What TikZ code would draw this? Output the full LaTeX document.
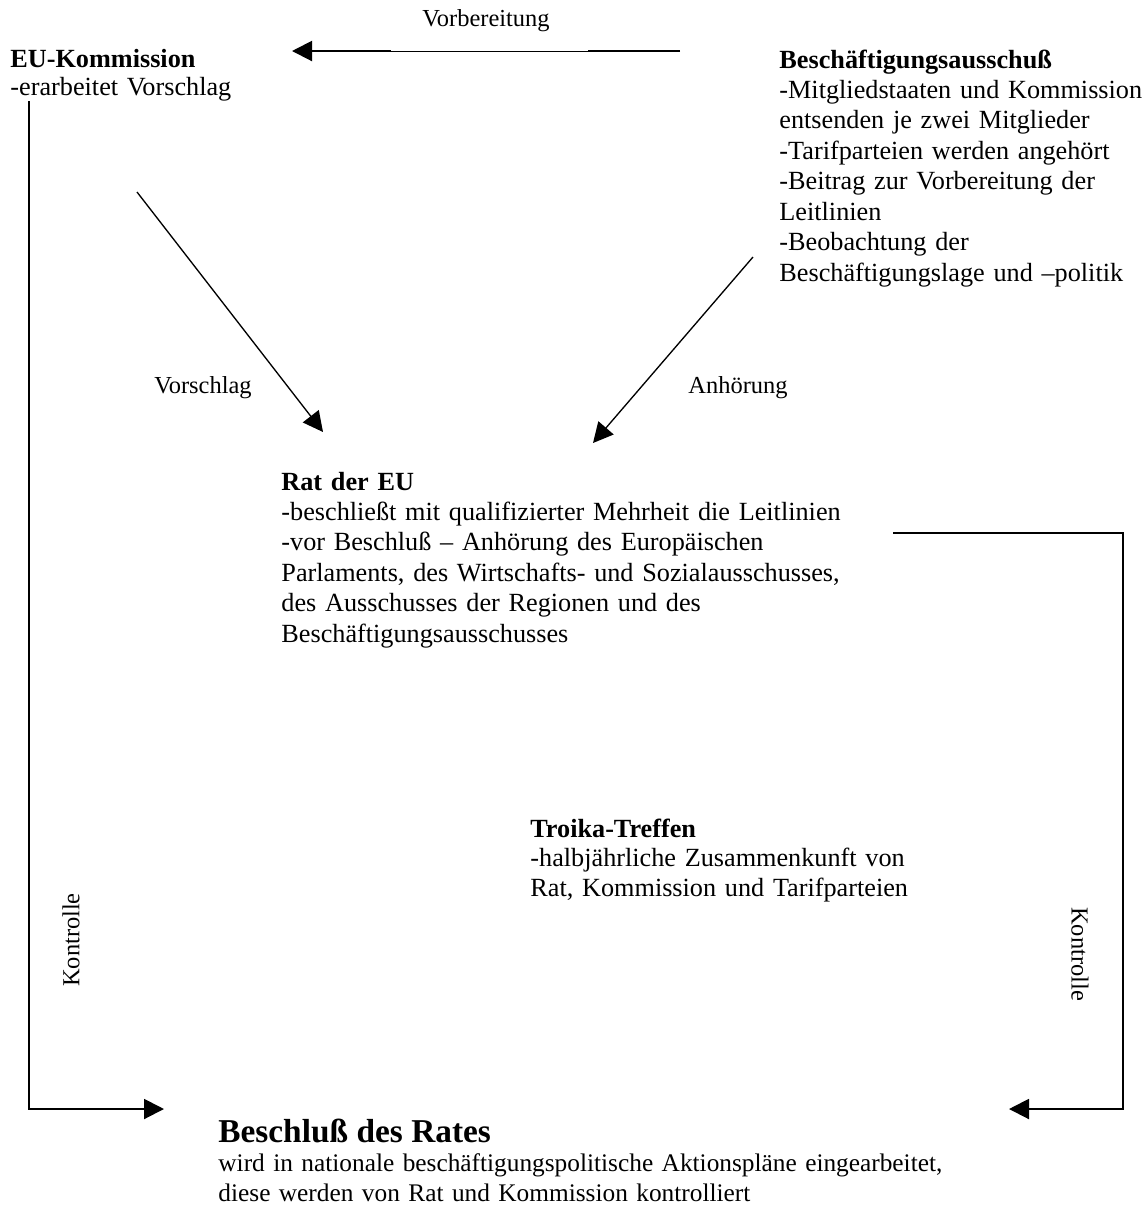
\documentclass[tikz,border=0pt]{standalone}
\usepackage{fontspec}
\setmainfont{Liberation Serif}
\usetikzlibrary{arrows.meta,positioning}

\begin{document}
\begin{tikzpicture}[x=0.45pt, y=-0.45pt,
	box/.style={anchor=base west, inner sep=0pt, align=left, text width=420pt, font=\fontsize{11.8}{13.3}\selectfont},
	lbl/.style={inner sep=0pt, font=\fontsize{11}{12}\selectfont},
	ln/.style={line width=0.9pt},
	arr/.style={line width=0.9pt, -{Triangle[length=9pt, width=9pt]}}]
		\useasboundingbox (0,0) rectangle (1148,1214);
		% text blocks
		\node [box, font=\fontsize{11.8}{12.8}\selectfont] (kom) at (10,67) {\textbf{EU-Kommission}\\-erarbeitet Vorschlag};
		\node [box, font=\fontsize{11.8}{13.7}\selectfont] (bsa) at (779,68) {\textbf{Beschäftigungsausschuß}\\-Mitgliedstaaten und Kommission\\entsenden je zwei Mitglieder\\-Tarifparteien werden angehört\\-Beitrag zur Vorbereitung der\\Leitlinien\\-Beobachtung der\\Beschäftigungslage und –politik};
		\node [box, font=\fontsize{11.8}{13.7}\selectfont] (rat) at (281,490) {\textbf{Rat der EU}\\-beschließt mit qualifizierter Mehrheit die Leitlinien\\-vor Beschluß – Anhörung des Europäischen\\Parlaments, des Wirtschafts- und Sozialausschusses,\\des Ausschusses der Regionen und des\\Beschäftigungsausschusses};
		\node [box] (troika) at (530,837) {\textbf{Troika-Treffen}\\-halbjährliche Zusammenkunft von\\Rat, Kommission und Tarifparteien};
		\node [box, font=\fontsize{11.4}{13.3}\selectfont] (beschl) at (218,1142) {{\bfseries\fontsize{15}{16}\selectfont Beschluß des Rates}\\wird in nationale beschäftigungspolitische Aktionspläne eingearbeitet,\\diese werden von Rat und Kommission kontrolliert};
		% labels
		\node [lbl, anchor=base] (vorb) at (486,26) {Vorbereitung};
		\node [lbl, anchor=base] (vorschl) at (203,393) {Vorschlag};
		\node [lbl, anchor=base] (anh) at (738,393) {Anhörung};
		\node [lbl, rotate=90] (kon-l) at (71,940) {Kontrolle};
		\node [lbl, rotate=-90] (kon-r) at (1080,954) {Kontrolle};
		% arrow ends
		\coordinate (vb-a) at (680,51);
		\coordinate (vb-b) at (588,51);
		\coordinate (vb-c) at (391,51);
		\coordinate (vb-tip) at (292,51);
		\coordinate (vs-a) at (137,192);
		\coordinate (vs-tip) at (323,432);
		\coordinate (an-a) at (753,257);
		\coordinate (an-tip) at (593,443);
		\coordinate (kl-a) at (29,101);
		\coordinate (kl-b) at (29,1109);
		\coordinate (kl-tip) at (164,1109);
		\coordinate (kr-a) at (893,533);
		\coordinate (kr-b) at (1123,533);
		\coordinate (kr-c) at (1123,1109);
		\coordinate (kr-tip) at (1009,1109);
		% connectors
		\draw [ln] (vb-a) -- (vb-b);
		\draw [line width=0.4pt] (vb-b) -- (vb-c);
		\draw [arr] (vb-c) -- (vb-tip);
		\draw [arr, line width=0.6pt] (vs-a) -- (vs-tip);
		\draw [arr, line width=0.6pt] (an-a) -- (an-tip);
		\draw [arr] (kl-a) -- (kl-b) -- (kl-tip);
		\draw [arr] (kr-a) -- (kr-b) -- (kr-c) -- (kr-tip);
	\end{tikzpicture}
\end{document}
